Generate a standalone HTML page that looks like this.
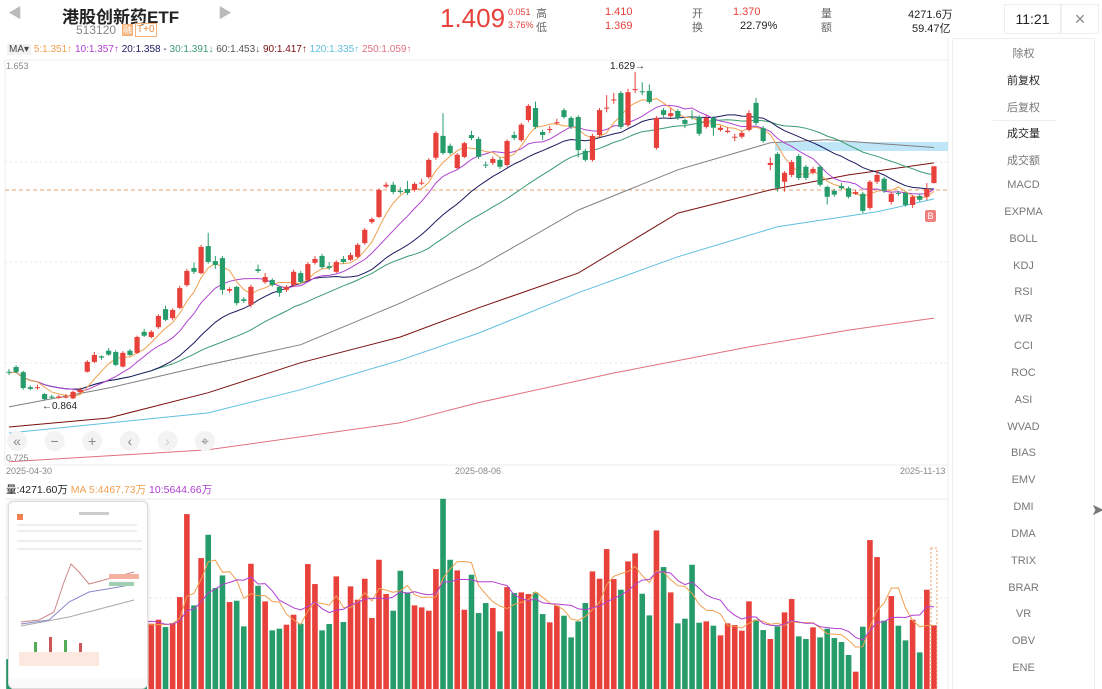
<!DOCTYPE html>
<html><head><meta charset="utf-8">
<style>
*{box-sizing:border-box;margin:0;padding:0}
body{width:1102px;height:689px;overflow:hidden;background:#fff;font-family:"Liberation Sans","Noto Sans CJK SC",sans-serif;position:relative;color:#222}
.abs{position:absolute;white-space:nowrap}
.menu{position:absolute;left:952px;top:38px;width:143px;height:651px;border:1px solid #eee;border-bottom:none}
.mi{position:absolute;left:0;width:143px;text-align:center;font-size:11px;color:#777}
.red{color:#e8403a}
</style></head>
<body>
<div class="abs" style="left:8px;top:3px;font-size:14px;color:#bbb">◀</div>
<div class="abs" style="left:62px;top:3px;font-size:17px;font-weight:bold">港股创新药ETF</div>
<div class="abs" style="left:76px;top:23px;font-size:12px;color:#888">513120</div>
<div class="abs" style="left:122px;top:24px;font-size:9px;background:#f7b27a;color:#fff;padding:0 1px;line-height:12px">融</div>
<div class="abs" style="left:135px;top:23px;font-size:10px;border:1px solid #f5b07a;color:#e88a40;padding:0 1px;line-height:12px">T+0</div>
<div class="abs" style="left:218px;top:3px;font-size:14px;color:#bbb">▶</div>
<div class="abs red" style="left:440px;top:3px;font-size:26px">1.409</div>
<div class="abs red" style="left:508px;top:7px;font-size:9px">0.051</div>
<div class="abs red" style="left:508px;top:20px;font-size:9px">3.76%</div>
<div class="abs" style="left:536px;top:5px;font-size:11px;color:#666">高</div>
<div class="abs" style="left:536px;top:19px;font-size:11px;color:#666">低</div>
<div class="abs red" style="left:605px;top:6px;font-size:11px">1.410</div>
<div class="abs red" style="left:605px;top:20px;font-size:11px">1.369</div>
<div class="abs" style="left:692px;top:5px;font-size:11px;color:#666">开</div>
<div class="abs" style="left:692px;top:19px;font-size:11px;color:#666">换</div>
<div class="abs red" style="left:733px;top:6px;font-size:11px">1.370</div>
<div class="abs" style="left:740px;top:20px;font-size:11px">22.79%</div>
<div class="abs" style="left:821px;top:5px;font-size:11px;color:#666">量</div>
<div class="abs" style="left:821px;top:19px;font-size:11px;color:#666">额</div>
<div class="abs" style="left:908px;top:6px;font-size:11px">4271.6万</div>
<div class="abs" style="left:912px;top:20px;font-size:11px">59.47亿</div>
<div class="abs" style="left:1004px;top:4px;width:57px;height:30px;border:1px solid #eee;text-align:center;line-height:29px;font-size:14px">11:21</div>
<div class="abs" style="left:1061px;top:4px;width:38px;height:30px;border:1px solid #eee;text-align:center;line-height:28px;font-size:18px;color:#888">×</div>

<div class="abs" style="left:7px;top:43px;font-size:10px;line-height:13px">
<span style="background:#f2f2f2;padding:0 2px;color:#444">MA▾</span>
<span style="color:#f0a050"> 5:1.351↑</span>
<span style="color:#b040d0"> 10:1.357↑</span>
<span style="color:#1a1a60"> 20:1.358 -</span>
<span style="color:#3a9a70"> 30:1.391↓</span>
<span style="color:#555"> 60:1.453↓</span>
<span style="color:#7a1010"> 90:1.417↑</span>
<span style="color:#60c0e0"> 120:1.335↑</span>
<span style="color:#e07080"> 250:1.059↑</span>
</div>

<div class="menu">
<div style="position:absolute;left:40px;width:63px;top:81px;border-top:1px solid #eee"></div>
</div>
<div id="menuItems"></div>

<svg id="chart" width="1102" height="689" style="position:absolute;left:0;top:0"></svg>

<div class="abs" style="left:6px;top:61px;font-size:9px;color:#888">1.653</div>
<div class="abs" style="left:6px;top:453px;font-size:9px;color:#888">0.725</div>
<div class="abs" style="left:6px;top:466px;font-size:9px;color:#888">2025-04-30</div>
<div class="abs" style="left:455px;top:466px;font-size:9px;color:#888">2025-08-06</div>
<div class="abs" style="left:900px;top:466px;font-size:9px;color:#888">2025-11-13</div>
<div class="abs" style="left:610px;top:61px;font-size:10px">1.629→</div>
<div class="abs" style="left:42px;top:401px;font-size:10px">←0.864</div>
<div class="abs" style="left:925px;top:210px;width:11px;height:12px;background:#f08080;color:#fff;font-size:9px;text-align:center;line-height:12px;border-radius:2px">B</div>
<div class="abs" style="left:6px;top:482px;font-size:10.5px"><span>量:4271.60万</span> <span style="color:#f0a050">MA 5:4467.73万</span> <span style="color:#b040d0">10:5644.66万</span></div>

<div class="abs" style="left:8px;top:501px;width:140px;height:188px;background:#fff;border:1px solid #ddd;border-radius:6px;box-shadow:0 0 4px rgba(0,0,0,.15);overflow:hidden">
<svg width="140" height="188">
<rect x="8" y="12" width="6" height="6" fill="#f08050"/>
<rect x="70" y="10" width="30" height="3" fill="#ccc"/>
<rect x="8" y="22" width="120" height="2" fill="#eee"/><rect x="8" y="28" width="120" height="2" fill="#eee"/>
<rect x="8" y="38" width="125" height="2" fill="#eee"/><rect x="8" y="46" width="125" height="2" fill="#eee"/>
<polyline points="12,120 30,118 45,110 55,80 62,62 70,70 80,82 95,78 110,74 125,70" fill="none" stroke="#c88" stroke-width="1"/>
<polyline points="12,122 40,118 60,100 80,90 110,85 125,82" fill="none" stroke="#88c" stroke-width="1"/>
<polyline points="12,124 60,115 125,98" fill="none" stroke="#aaa" stroke-width="1"/>
<rect x="100" y="72" width="30" height="5" fill="#f5b0a0"/><rect x="100" y="80" width="25" height="4" fill="#a0d0b0"/>
<rect x="10" y="150" width="80" height="14" fill="#fde8e0"/>
<rect x="25" y="140" width="3" height="10" fill="#5a5"/><rect x="40" y="135" width="3" height="15" fill="#c55"/><rect x="55" y="138" width="3" height="12" fill="#5a5"/><rect x="70" y="141" width="3" height="9" fill="#c55"/>
<rect x="0" y="176" width="140" height="12" fill="#fafafa"/>
</svg></div>

<script>
// ---- data ----
const opens=[.930,.941,.929,.894,.892,.878,.872,.869,.871,.868,.882,.930,.953,.966,.979,.976,.942,.979,.974,1.023,1.011,1.034,1.076,1.055,1.079,1.132,1.172,1.160,1.223,1.188,1.195,1.119,1.128,1.099,1.086,1.169,1.139,1.144,1.128,1.121,1.132,1.160,1.144,1.184,1.200,1.176,1.163,1.193,1.191,1.198,1.230,1.279,1.291,1.362,1.366,1.352,1.356,1.354,1.369,1.384,1.429,1.480,1.457,1.405,1.431,1.482,1.473,1.413,1.417,1.424,1.412,1.482,1.470,1.517,1.545,1.489,1.494,1.510,1.540,1.522,1.524,1.445,1.424,1.482,1.544,1.563,1.580,1.505,1.587,1.584,1.585,1.452,1.540,1.526,1.538,1.517,1.525,1.524,1.501,1.522,1.494,1.489,1.478,1.478,1.494,1.557,1.498,1.412,1.438,1.373,1.389,1.433,1.408,1.394,1.408,1.361,1.352,1.363,1.358,1.345,1.345,1.312,1.373,1.380,1.326,1.347,1.347,1.319,1.340,1.338,1.370];
const highs=[.936,.945,.932,.898,.900,.880,.876,.876,.878,.886,.893,.957,.976,.968,.985,.980,.978,.983,1.014,1.030,1.027,1.064,1.084,1.078,1.130,1.170,1.185,1.226,1.254,1.200,1.200,1.127,1.130,1.104,1.133,1.180,1.160,1.148,1.130,1.132,1.168,1.165,1.186,1.200,1.205,1.186,1.190,1.200,1.208,1.230,1.265,1.290,1.358,1.372,1.373,1.360,1.375,1.372,1.380,1.428,1.491,1.533,1.462,1.440,1.466,1.492,1.478,1.420,1.432,1.430,1.472,1.490,1.510,1.554,1.560,1.494,1.503,1.520,1.545,1.526,1.528,1.450,1.485,1.545,1.575,1.580,1.585,1.590,1.629,1.605,1.600,1.526,1.545,1.545,1.542,1.521,1.540,1.528,1.528,1.526,1.504,1.500,1.485,1.492,1.540,1.569,1.503,1.430,1.442,1.398,1.424,1.438,1.412,1.408,1.412,1.364,1.356,1.370,1.362,1.354,1.349,1.377,1.400,1.384,1.350,1.352,1.350,1.342,1.345,1.370,1.410];
const lows=[.922,.926,.888,.887,.888,.864,.867,.867,.868,.866,.880,.928,.950,.958,.967,.943,.940,.966,.971,1.011,1.008,1.030,1.048,1.050,1.076,1.128,1.158,1.157,1.182,1.170,1.110,1.114,1.085,1.090,1.080,1.160,1.135,1.128,1.105,1.116,1.128,1.135,1.140,1.180,1.170,1.168,1.160,1.182,1.188,1.195,1.226,1.275,1.288,1.358,1.344,1.344,1.342,1.350,1.365,1.380,1.424,1.436,1.436,1.402,1.428,1.470,1.426,1.405,1.412,1.403,1.408,1.470,1.466,1.512,1.496,1.470,1.487,1.505,1.520,1.496,1.430,1.420,1.420,1.478,1.535,1.555,1.496,1.500,1.580,1.575,1.555,1.448,1.524,1.522,1.517,1.498,1.518,1.480,1.497,1.480,1.490,1.486,1.468,1.474,1.490,1.505,1.464,1.400,1.350,1.350,1.384,1.377,1.377,1.390,1.362,1.320,1.338,1.354,1.334,1.342,1.300,1.308,1.368,1.347,1.320,1.340,1.315,1.312,1.327,1.330,1.369];
const closes=[.928,.929,.892,.890,.894,.866,.870,.872,.872,.883,.888,.953,.969,.963,.970,.946,.974,.969,1.011,1.014,1.023,1.060,1.051,1.074,1.125,1.165,1.163,1.221,1.186,1.179,1.121,1.123,1.090,1.095,1.128,1.165,1.151,1.132,1.114,1.128,1.163,1.139,1.181,1.193,1.174,1.172,1.186,1.186,1.202,1.226,1.261,1.286,1.354,1.366,1.349,1.349,1.347,1.368,1.371,1.424,1.487,1.440,1.440,1.436,1.463,1.475,1.431,1.412,1.426,1.408,1.468,1.475,1.506,1.550,1.501,1.482,1.496,1.512,1.524,1.501,1.447,1.424,1.480,1.540,1.546,1.565,1.501,1.582,1.589,1.583,1.559,1.522,1.529,1.533,1.522,1.508,1.524,1.485,1.522,1.499,1.499,1.492,1.478,1.487,1.533,1.510,1.468,1.417,1.359,1.394,1.419,1.382,1.382,1.403,1.366,1.338,1.343,1.358,1.338,1.349,1.305,1.373,1.389,1.352,1.345,1.345,1.319,1.338,1.331,1.356,1.409];
const volumes=[2000,1900,3800,4200,3500,4600,3900,3300,3600,4100,3800,5200,5600,4300,4000,4800,4500,4200,4100,4300,4377,4645,4154,4422,6164,11725,5606,8777,10340,6767,7615,5829,5919,4199,8397,6923,5874,3931,4042,4310,4980,4377,8375,7035,3931,4355,7549,4489,6879,5985,7392,4757,8665,6365,5248,7928,6477,5606,5472,5248,8040,12752,8665,7950,5315,7660,5092,5762,5427,3864,6834,6432,6477,6365,6477,5025,4467,5584,4914,3462,4534,5762,7884,7392,9380,7370,6656,8554,9090,6387,4936,10630,8174,6477,4400,4713,8330,4445,4534,4243,3596,4400,4288,3908,5874,4645,3953,3350,4199,5137,6030,3529,3350,4132,3462,4042,3417,3149,2278,1161,4176,9983,8844,4579,6231,4243,3260,4645,2456,6656,4272];
// long moving averages: [candle index, value]
const ma60Idx=[0,14,28,41,55,66,80,94,107,115,130];
const ma60Val=[.848,.892,.946,.993,1.090,1.174,1.307,1.401,1.464,1.471,1.453];
const ma90Idx=[0,14,28,41,55,66,80,94,107,118,130];
const ma90Val=[.801,.822,.881,.951,1.011,1.079,1.160,1.300,1.354,1.389,1.417];
const ma120Idx=[0,28,41,55,66,80,94,108,122,130];
const ma120Val=[.787,.834,.888,.957,1.020,1.114,1.198,1.268,1.303,1.333];
const ma250Idx=[0,28,55,66,85,104,118,130];
const ma250Val=[.720,.748,.811,.858,.927,.988,1.027,1.055];

// ---- scales ----
const X=i=>9+i*7.115;
const Y=p=>72+(1.629-p)*428.8;
const VY=v=>689-v*179/12000;
const RED='#e8403a',GREEN='#279c6b';
const svg=document.getElementById('chart');
const NS='http://www.w3.org/2000/svg';
function mk(tag,attrs){const e=document.createElementNS(NS,tag);for(const k in attrs)e.setAttribute(k,attrs[k]);svg.appendChild(e);return e;}

let e;
e=mk('rect',{x:5,y:60,width:943,height:405,fill:'none',stroke:'#eee'});


[162,262,363].forEach(gy=>{e=mk('line',{x1:5,x2:948,y1:gy,y2:gy,stroke:'#e6e6e6','stroke-dasharray':'2,3'});

});
e=mk('line',{x1:948,x2:948,y1:38,y2:689,stroke:'#eee'});


e=mk('line',{x1:5,x2:948,y1:499,y2:499,stroke:'#eee'});


e=mk('line',{x1:5,x2:948,y1:598,y2:598,stroke:'#e6e6e6','stroke-dasharray':'2,3'});


e=mk('rect',{x:775,y:142,width:173,height:9,fill:'#bfe6f7'});


e=mk('line',{x1:5,x2:948,y1:190,y2:190,stroke:'#e0a070','stroke-dasharray':'4,3'});



function sma(arr,n){return arr.map((_,i)=>{const s=Math.max(0,i-n+1);let t=0;for(let j=s;j<=i;j++)t+=arr[j];return t/(i-s+1);});}
function line(vals,color,name,w){const pts=vals.map((v,i)=>X(i).toFixed(1)+','+Y(v).toFixed(1)).join(' ');
const l=mk('polyline',{points:pts,fill:'none',stroke:color,'stroke-width':w||1});

}
function sparse(idx,vals,color,name){const pts=idx.map((ix,k)=>X(ix).toFixed(1)+','+Y(vals[k]).toFixed(1)).join(' ');
const l=mk('polyline',{points:pts,fill:'none',stroke:color,'stroke-width':1});

}
sparse(ma250Idx,ma250Val,'#e07080','ma250-line');
sparse(ma120Idx,ma120Val,'#60c0e0','ma120-line');
sparse(ma90Idx,ma90Val,'#7a1010','ma90-line');
sparse(ma60Idx,ma60Val,'#808080','ma60-line');
line(sma(closes,30),'#3a9a70','ma30-line');
line(sma(closes,20),'#1a1a60','ma20-line');
line(sma(closes,10),'#b040d0','ma10-line');
line(sma(closes,5),'#f0a050','ma5-line');

closes.forEach((c,i)=>{const o=opens[i];const col=c>=o?RED:GREEN;const x=X(i);
const w=mk('line',{x1:x,x2:x,y1:Y(highs[i]),y2:Y(lows[i]),stroke:col,'stroke-width':1});


const top=Y(Math.max(o,c)),bot=Y(Math.min(o,c));
const b=mk('rect',{x:x-2.6,y:top,width:5.2,height:Math.max(1,bot-top),fill:col});


});

volumes.forEach((v,i)=>{const col=closes[i]>=opens[i]?RED:GREEN;
const b=mk('rect',{x:X(i)-2.8,y:VY(v),width:5.6,height:689-VY(v),fill:col});


});
function vline(vals,color,name){const pts=vals.map((v,i)=>X(i).toFixed(1)+','+VY(v).toFixed(1)).join(' ');
const l=mk('polyline',{points:pts,fill:'none',stroke:color,'stroke-width':1});

}
vline(sma(volumes,5),'#f0a050','volume-ma5-line');
vline(sma(volumes,10),'#b040d0','volume-ma10-line');
e=mk('rect',{x:X(130)-3,y:548,width:6,height:141,fill:'none',stroke:'#e8a070','stroke-dasharray':'2,2'});



const ctrlGlyphs=['«','−','+','‹','›','⌖'];
ctrlGlyphs.forEach((g,k)=>{const cx=17+k*37.6;
const c=mk('circle',{cx:cx,cy:441,r:10,fill:'#f3f3f3'});


const t=mk('text',{x:cx,y:446,'text-anchor':'middle','font-size':14,fill:k==4?'#ccc':'#888','font-family':'Liberation Sans, DejaVu Sans, sans-serif'});
t.textContent=g;


});

const menuItems=['除权','前复权','后复权','成交量','成交额','MACD','EXPMA','BOLL','KDJ','RSI','WR','CCI','ROC','ASI','WVAD','BIAS','EMV','DMI','DMA','TRIX','BRAR','VR','OBV','ENE'];
const mc=document.getElementById('menuItems');
menuItems.forEach((m,k)=>{const d=document.createElement('div');d.className='mi';
d.style.left='952px';d.style.top=(45+k*26.83)+'px';d.textContent=m;
if(k==1||k==3)d.style.color='#222';


mc.appendChild(d);});
</script>
<div class="abs" style="left:1091px;top:500px;font-size:16px;color:#777">➤</div>
</body></html>
